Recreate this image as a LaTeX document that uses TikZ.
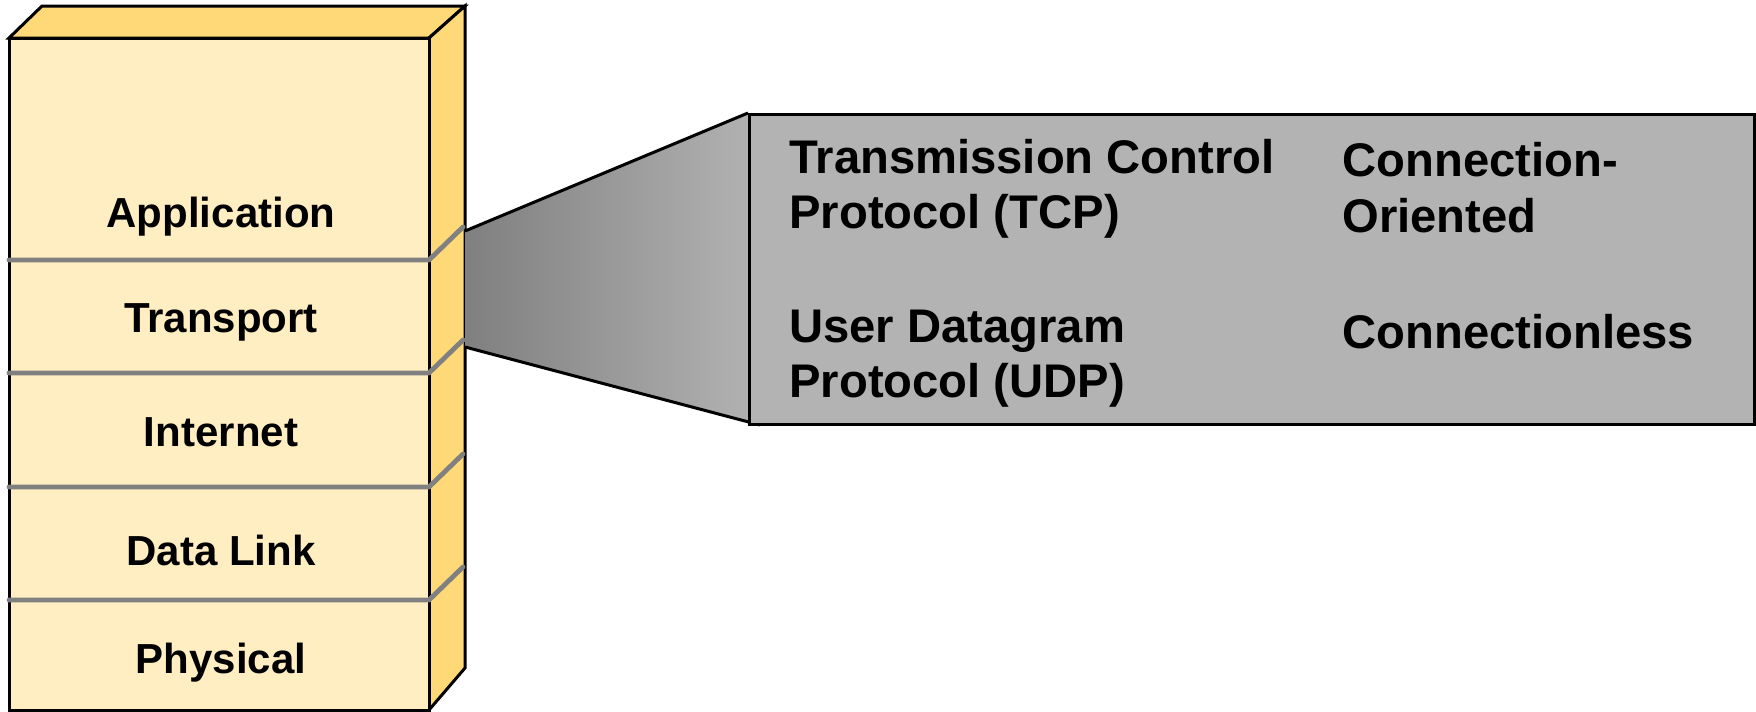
\documentclass[tikz,border=0pt]{standalone}
\usepackage{fontspec}
\setmainfont{Liberation Sans}
\begin{document}
\begin{tikzpicture}[x=0.5pt,y=-0.5pt,
  layerlbl/.style={font=\fontsize{21}{25}\selectfont\bfseries, anchor=base, inner sep=0pt},
  boxlbl/.style={font=\fontsize{23.6}{28}\selectfont\bfseries, anchor=base west, inner sep=0pt},
  outline/.style={draw=black, line width=1.5pt, line join=miter},
  sep/.style={draw=black!50, line width=2.4pt, line cap=round, line join=round}]
\useasboundingbox (0,0) rectangle (1756,712);
\definecolor{frontc}{HTML}{FFEEC2}
\definecolor{sidec}{HTML}{FFD977}
\definecolor{greyc}{HTML}{B3B3B3}
% stack
\coordinate (ftl) at (9,38);
\coordinate (ftr) at (429,38);
\coordinate (fbl) at (9,710);
\coordinate (fbr) at (429,710);
\coordinate (btl) at (42,6);
\coordinate (btr) at (465,6);
\coordinate (bbr) at (465,668);
\path[fill=sidec, outline] (ftl) -- (btl) -- (btr) -- (ftr) -- cycle;
\path[fill=sidec, outline] (ftr) -- (btr) -- (bbr) -- (fbr) -- cycle;
\path[fill=frontc, outline] (ftl) rectangle (fbr);
% separators
\foreach \y/\n in {260/a,373/b,487/c,600/d}{
  \coordinate (s\n l) at (9,\y);
  \coordinate (s\n m) at (429,\y);
  \coordinate (s\n r) at (463,\y-33);
  \draw[sep] (s\n l) -- (s\n m) -- (s\n r);
}
% labels
\node[layerlbl] (app) at (221,227) {Application};
\node[layerlbl] (trn) at (221,332) {Transport};
\node[layerlbl] (int) at (221,446) {Internet};
\node[layerlbl] (dl) at (221,565) {Data Link};
\node[layerlbl] (phy) at (221,673) {Physical};
% callout
\coordinate (ct) at (465,231);
\coordinate (cb) at (465,347);
\coordinate (bt) at (748,113);
\coordinate (bb) at (760,425);
\path[left color=black!50, right color=greyc] (ct) -- (bt) -- (bb) -- (cb) -- cycle;
\draw[black, line width=1.5pt] (ct) -- (bt);
\draw[black, line width=1.5pt] (cb) -- (bb);
\node[fill=greyc, outline, minimum width=502.5pt, minimum height=155pt, inner sep=0pt, anchor=north west] (box) at (748,113) {};
% box text
\node[boxlbl] (tcp1) at (789,173) {Transmission Control};
\node[boxlbl] (tcp2) at (789,228) {Protocol (TCP)};
\node[boxlbl] (udp1) at (789,342) {User Datagram};
\node[boxlbl] (udp2) at (789,397) {Protocol (UDP)};
\node[boxlbl] (co1) at (1342,176) {Connection-};
\node[boxlbl] (co2) at (1342,232) {Oriented};
\node[boxlbl] (cl) at (1342,348) {Connectionless};
\end{tikzpicture}
\end{document}
